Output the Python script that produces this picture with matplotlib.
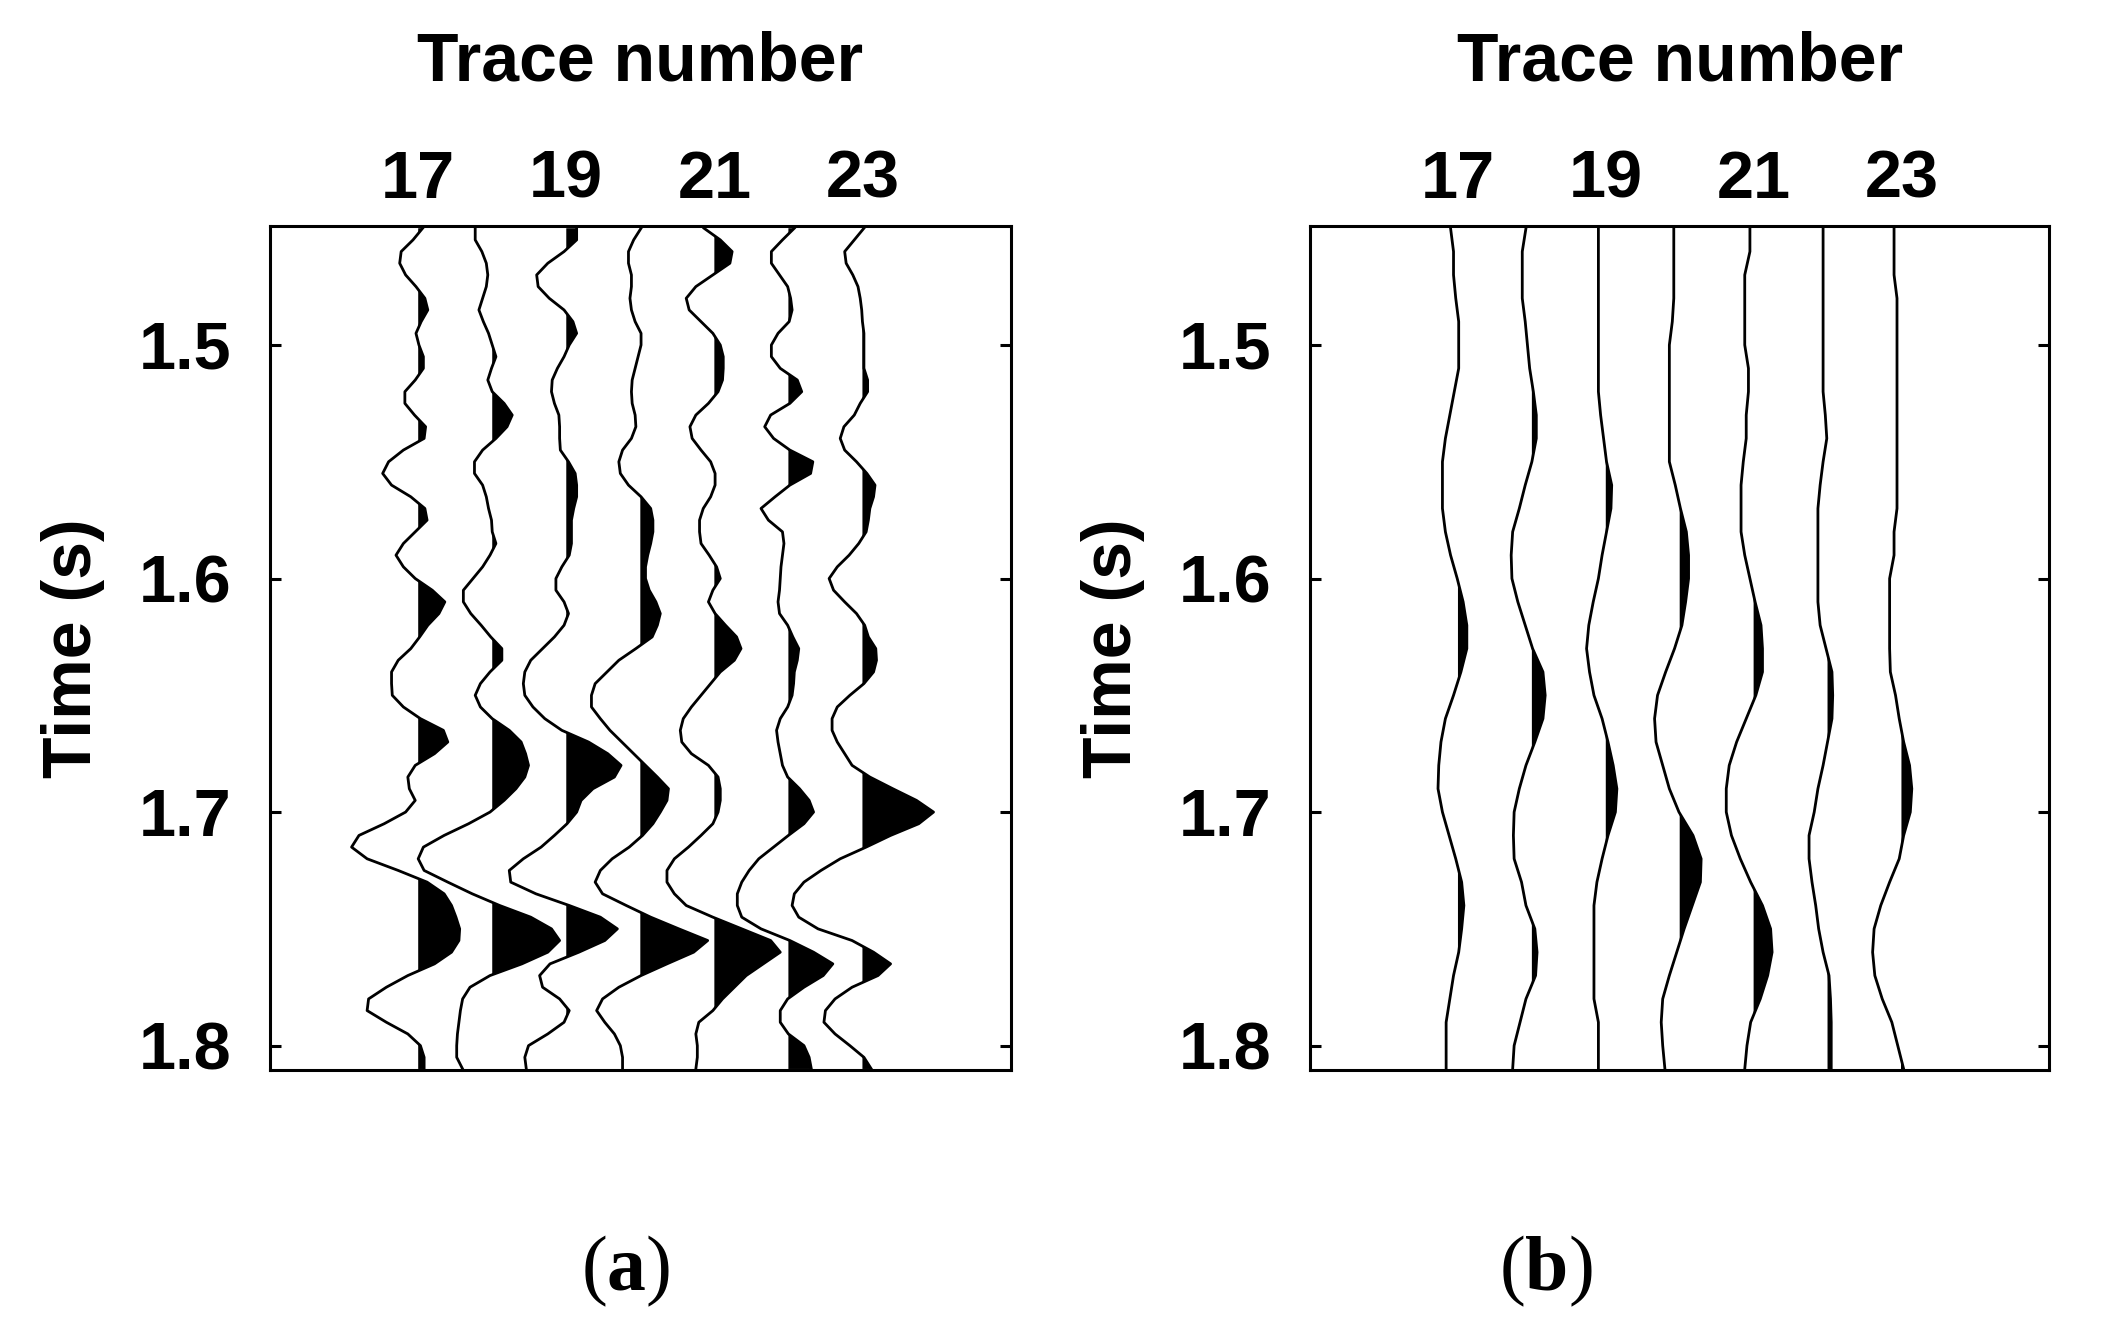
import matplotlib.pyplot as plt
import numpy as np

plt.rcParams['font.family'] = 'Liberation Sans'
plt.rcParams['font.weight'] = 'bold'
plt.rcParams['axes.labelweight'] = 'bold'
plt.rcParams['mathtext.fontset'] = 'custom'
plt.rcParams['mathtext.rm'] = 'Liberation Serif'
plt.rcParams['mathtext.bf'] = 'Liberation Serif:bold'

trace_numbers = [17, 18, 19, 20, 21, 22, 23]
tick_traces = [17, 19, 21, 23]
time_ticks = [1.5, 1.6, 1.7, 1.8]

# panel (a): samples every 5 ms from 1.45 s to 1.81 s
t0_a, dt_a, n_a = 1.45, 0.005, 73
a17 = [0.06, -0.07, -0.23, -0.25, -0.17, -0.03, 0.09, 0.13, 0.04, -0.03,
       0.01, 0.07, 0.07, -0.04, -0.18, -0.18, -0.05, 0.10, 0.08, -0.20,
       -0.40, -0.48, -0.36, -0.10, 0.09, 0.12, -0.04, -0.20, -0.30, -0.20,
       -0.04, 0.19, 0.36, 0.28, 0.13, 0.02, -0.10, -0.27, -0.36, -0.36,
       -0.35, -0.20, 0.03, 0.34, 0.40, 0.22, -0.04, -0.14, -0.12, -0.04,
       -0.17, -0.46, -0.80, -0.90, -0.69, -0.27, 0.12, 0.35, 0.45, 0.51,
       0.56, 0.55, 0.45, 0.22, -0.14, -0.43, -0.67, -0.69, -0.43, -0.14,
       0.03, 0.08, 0.08]
a18 = [-0.23, -0.23, -0.14, -0.08, -0.06, -0.08, -0.13, -0.18, -0.12, -0.05,
       0.00, 0.05, -0.01, -0.06, 0.00, 0.16, 0.27, 0.20, 0.05, -0.13,
       -0.24, -0.24, -0.13, -0.08, -0.05, -0.01, 0.00, 0.05, -0.03, -0.13,
       -0.26, -0.39, -0.39, -0.29, -0.15, -0.02, 0.13, 0.13, -0.03, -0.16,
       -0.23, -0.16, 0.00, 0.23, 0.39, 0.45, 0.49, 0.44, 0.32, 0.16,
       -0.03, -0.32, -0.65, -0.93, -1.00, -0.92, -0.60, -0.27, 0.10, 0.52,
       0.80, 0.91, 0.75, 0.40, -0.03, -0.30, -0.40, -0.43, -0.45, -0.47,
       -0.48, -0.48, -0.40]
a19 = [0.14, 0.14, -0.03, -0.25, -0.40, -0.38, -0.23, -0.03, 0.09, 0.14,
       0.04, -0.03, -0.12, -0.19, -0.20, -0.16, -0.10, -0.09, -0.09, -0.08,
       0.03, 0.12, 0.14, 0.14, 0.10, 0.07, 0.07, 0.07, 0.04, -0.06,
       -0.14, -0.14, -0.03, 0.03, -0.03, -0.16, -0.32, -0.48, -0.56, -0.58,
       -0.56, -0.45, -0.29, -0.06, 0.30, 0.56, 0.74, 0.65, 0.36, 0.20,
       0.14, 0.01, -0.16, -0.34, -0.58, -0.77, -0.75, -0.41, 0.04, 0.46,
       0.69, 0.52, 0.17, -0.22, -0.36, -0.32, -0.09, 0.04, -0.03, -0.25,
       -0.51, -0.56, -0.54]
a20 = [0.01, -0.09, -0.16, -0.16, -0.12, -0.12, -0.14, -0.12, -0.07, 0.01,
       0.01, -0.03, -0.07, -0.11, -0.12, -0.11, -0.07, -0.06, -0.12, -0.24,
       -0.29, -0.27, -0.16, 0.01, 0.14, 0.17, 0.17, 0.14, 0.10, 0.07,
       0.07, 0.12, 0.21, 0.27, 0.23, 0.16, -0.06, -0.29, -0.45, -0.61,
       -0.66, -0.66, -0.54, -0.41, -0.25, -0.09, 0.07, 0.23, 0.38, 0.36,
       0.27, 0.17, 0.03, -0.15, -0.38, -0.54, -0.61, -0.51, -0.19, 0.14,
       0.52, 0.91, 0.72, 0.36, 0.01, -0.29, -0.51, -0.59, -0.48, -0.35,
       -0.27, -0.24, -0.24]
a21 = [-0.14, 0.08, 0.24, 0.21, -0.02, -0.25, -0.38, -0.34, -0.18, -0.02,
       0.08, 0.12, 0.12, 0.11, 0.05, -0.08, -0.25, -0.33, -0.30, -0.18,
       -0.05, 0.01, 0.01, -0.05, -0.15, -0.20, -0.20, -0.18, -0.07, 0.03,
       0.08, -0.02, -0.08, 0.01, 0.15, 0.30, 0.36, 0.27, 0.08, -0.05,
       -0.18, -0.31, -0.42, -0.46, -0.44, -0.31, -0.08, 0.05, 0.08, 0.08,
       0.05, -0.02, -0.18, -0.35, -0.54, -0.64, -0.64, -0.54, -0.38, -0.02,
       0.37, 0.76, 0.89, 0.66, 0.43, 0.27, 0.11, -0.02, -0.21, -0.25,
       -0.23, -0.23, -0.25]
a22 = [0.08, -0.08, -0.23, -0.23, -0.12, -0.01, 0.03, 0.05, 0.01, -0.14,
       -0.23, -0.23, -0.11, 0.12, 0.18, 0.02, -0.24, -0.32, -0.20, 0.02,
       0.33, 0.30, 0.02, -0.18, -0.37, -0.27, -0.08, -0.06, -0.08, -0.10,
       -0.11, -0.12, -0.14, -0.12, -0.01, 0.06, 0.14, 0.12, 0.08, 0.07,
       0.05, -0.01, -0.11, -0.16, -0.14, -0.11, -0.08, -0.01, 0.15, 0.28,
       0.34, 0.21, 0.00, -0.20, -0.40, -0.53, -0.63, -0.69, -0.69, -0.63,
       -0.37, 0.02, 0.34, 0.60, 0.47, 0.21, -0.01, -0.11, -0.11, 0.00,
       0.21, 0.28, 0.31]
a23 = [0.02, -0.11, -0.24, -0.22, -0.13, -0.06, -0.03, -0.01, 0.00, 0.02,
       0.02, 0.02, 0.02, 0.07, 0.07, -0.03, -0.11, -0.25, -0.30, -0.24,
       -0.08, 0.06, 0.17, 0.15, 0.10, 0.08, 0.05, -0.05, -0.18, -0.34,
       -0.45, -0.39, -0.24, -0.08, 0.03, 0.08, 0.18, 0.19, 0.15, 0.02,
       -0.17, -0.34, -0.41, -0.41, -0.34, -0.24, -0.14, 0.10, 0.41, 0.73,
       0.96, 0.76, 0.38, 0.05, -0.30, -0.56, -0.79, -0.92, -0.95, -0.86,
       -0.60, -0.14, 0.15, 0.38, 0.21, -0.14, -0.37, -0.50, -0.52, -0.37,
       -0.17, 0.02, 0.12]

# panel (b): samples every 10 ms from 1.45 s to 1.81 s
t0_b, dt_b, n_b = 1.45, 0.01, 37
b17 = [-0.10, -0.06, -0.06, -0.03, 0.01, 0.01, 0.01, -0.05, -0.11, -0.17,
       -0.21, -0.21, -0.21, -0.17, -0.10, -0.01, 0.07, 0.12, 0.12, 0.04,
       -0.06, -0.17, -0.23, -0.26, -0.27, -0.21, -0.12, -0.03, 0.05, 0.08,
       0.05, 0.01, -0.06, -0.11, -0.16, -0.16, -0.16]
b18 = [-0.08, -0.13, -0.13, -0.13, -0.09, -0.06, -0.03, 0.02, 0.06, 0.06,
       0.00, -0.09, -0.17, -0.26, -0.28, -0.27, -0.19, -0.09, 0.01, 0.15,
       0.18, 0.15, 0.04, -0.08, -0.17, -0.24, -0.25, -0.24, -0.14, -0.08,
       0.04, 0.07, 0.05, -0.08, -0.16, -0.24, -0.26]
b19 = [-0.10, -0.10, -0.10, -0.10, -0.10, -0.10, -0.10, -0.10, -0.07, -0.03,
       0.01, 0.08, 0.07, 0.01, -0.05, -0.10, -0.17, -0.23, -0.26, -0.22,
       -0.16, -0.05, 0.03, 0.10, 0.15, 0.13, 0.03, -0.05, -0.12, -0.16,
       -0.16, -0.16, -0.16, -0.16, -0.10, -0.10, -0.10]
b20 = [-0.08, -0.08, -0.08, -0.08, -0.10, -0.14, -0.14, -0.14, -0.14, -0.14,
       -0.14, -0.06, 0.01, 0.09, 0.12, 0.12, 0.08, 0.03, -0.07, -0.19,
       -0.30, -0.34, -0.32, -0.23, -0.14, -0.01, 0.18, 0.29, 0.28, 0.17,
       0.06, -0.04, -0.14, -0.23, -0.25, -0.23, -0.20]
b21 = [-0.05, -0.05, -0.12, -0.12, -0.12, -0.12, -0.07, -0.07, -0.10, -0.10,
       -0.14, -0.17, -0.17, -0.17, -0.12, -0.05, 0.02, 0.10, 0.12, 0.12,
       0.03, -0.10, -0.23, -0.33, -0.37, -0.37, -0.30, -0.18, -0.04, 0.12,
       0.23, 0.25, 0.19, 0.09, -0.04, -0.09, -0.12]
b22 = [-0.06, -0.06, -0.06, -0.06, -0.06, -0.06, -0.06, -0.06, -0.03, -0.01,
       -0.06, -0.10, -0.13, -0.13, -0.13, -0.13, -0.13, -0.10, -0.02, 0.06,
       0.07, 0.06, 0.00, -0.06, -0.13, -0.18, -0.25, -0.25, -0.21, -0.16,
       -0.12, -0.06, 0.02, 0.04, 0.05, 0.05, 0.05]
b23 = [-0.10, -0.10, -0.10, -0.06, -0.06, -0.06, -0.06, -0.06, -0.06, -0.06,
       -0.06, -0.06, -0.06, -0.10, -0.10, -0.16, -0.16, -0.16, -0.16, -0.15,
       -0.08, -0.03, 0.03, 0.11, 0.14, 0.12, 0.03, -0.03, -0.16, -0.28,
       -0.37, -0.39, -0.36, -0.26, -0.13, -0.05, 0.03]

panel_a = [a17, a18, a19, a20, a21, a22, a23]
panel_b = [b17, b18, b19, b20, b21, b22, b23]
time_a = t0_a + dt_a * np.arange(n_a)
time_b = t0_b + dt_b * np.arange(n_b)


def wiggle(ax, t, traces):
    for k, amp in zip(trace_numbers, traces):
        amp = np.asarray(amp)
        ax.fill_betweenx(t, k, k + amp, where=amp > 0, interpolate=True,
                         color='k', lw=0)
        ax.plot(k + amp, t, color='k', lw=2.0)

    ax.set_xlim(15, 25)
    ax.set_ylim(1.8105, 1.449)
    ax.set_xticks(tick_traces)
    ax.set_yticks(time_ticks)
    ax.set_yticklabels([str(v) for v in time_ticks])
    ax.xaxis.tick_top()
    ax.xaxis.set_label_position('top')
    ax.tick_params(axis='x', length=0, pad=10, labelsize=48)
    ax.tick_params(axis='y', direction='in', left=True, right=True,
                   length=8, width=2.2, labelsize=48, pad=28)
    for s in ax.spines.values():
        s.set_linewidth(2.2)
    ax.set_xlabel('Trace number', fontsize=49, labelpad=50)
    ax.set_ylabel('Time (s)', fontsize=49, labelpad=24)


fig = plt.figure(figsize=(21.07, 13.35), dpi=100)
ax_a = fig.add_axes([0.1282, 0.1984, 0.3514, 0.6324])
ax_b = fig.add_axes([0.6218, 0.1984, 0.3508, 0.6324])

wiggle(ax_a, time_a, panel_a)
wiggle(ax_b, time_b, panel_b)

fig.text(0.297, 0.048, r'($\mathbf{a}$)', ha='center', va='center',
         fontsize=56, family='Liberation Serif', fontweight='normal')
fig.text(0.7335, 0.048, r'($\mathbf{b}$)', ha='center', va='center',
         fontsize=56, family='Liberation Serif', fontweight='normal')

plt.savefig('out.png', dpi=100)
plt.close()
